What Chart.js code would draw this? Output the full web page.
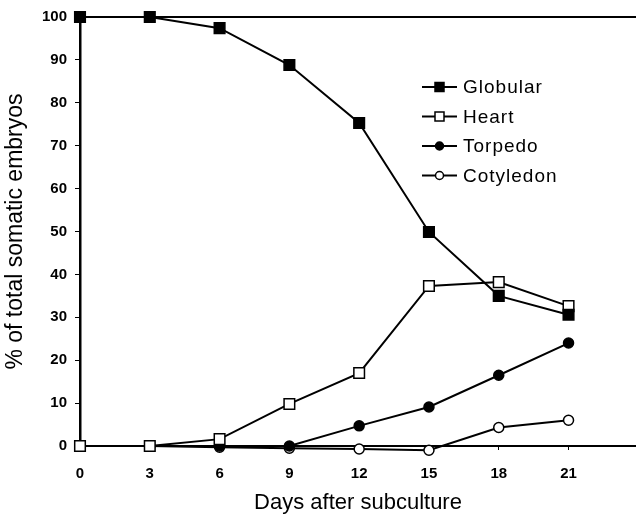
<!DOCTYPE html>
<html>
<head>
<meta charset="utf-8">
<script src="https://cdn.jsdelivr.net/npm/chart.js@4/dist/chart.umd.min.js"></script>
<style>
  html, body { margin: 0; padding: 0; background: #fff; overflow: hidden; }
  canvas { display: block; }
</style>
</head>
<body>
<canvas id="myChart" width="636" height="518"></canvas>
<script>
const days = [0, 3, 6, 9, 12, 15, 18, 21];
const globular = [100, 100, 97.4, 88.8, 75.3, 49.9, 35, 30.6];
const heart = [0, 0, 1.6, 9.8, 17, 37.3, 38.2, 32.6];
const torpedo = [0, 0, 0, 0, 4.7, 9.1, 16.5, 24];
const cotyledon = [0, 0, -0.3, -0.5, -0.7, -1, 4.3, 6];
const xTicks = [0, 3, 6, 9, 12, 15, 18, 21];
const yTicks = [0, 10, 20, 30, 40, 50, 60, 70, 80, 90, 100];

const toPoints = vals => days.map((d, i) => ({ x: d, y: vals[i] }));

const series = [
    { label: 'Globular', data: globular, style: 'rect', fill: '#000', r: 7.5 },
    { label: 'Heart', data: heart, style: 'rect', fill: '#fff', r: 7.5 },
    { label: 'Torpedo', data: torpedo, style: 'circle', fill: '#000', r: 5 },
    { label: 'Cotyledon', data: cotyledon, style: 'circle', fill: '#fff', r: 5 },
];

const FONT = '"Liberation Sans", Arial, sans-serif';

// legend drawn inside the plot like the original figure
const boxLegend = {
    id: 'boxLegend',
    afterDraw(chart) {
        const c = chart.ctx;
        c.save();
        c.font = '19px ' + FONT;
        c.letterSpacing = '1px';
        c.textBaseline = 'middle';
        series.forEach((s, i) => {
            const y = 87 + i * 29.5;
            c.strokeStyle = '#000';
            c.lineWidth = 2;
            c.beginPath();
            c.moveTo(422, y);
            c.lineTo(457, y);
            c.stroke();
            c.fillStyle = s.fill;
            c.lineWidth = 1.5;
            if (s.style === 'rect') {
                c.fillRect(435, y - 4.5, 9, 9);
                c.strokeRect(435, y - 4.5, 9, 9);
            } else {
                c.beginPath();
                c.arc(439.5, y, 4, 0, Math.PI * 2);
                c.fill();
                c.stroke();
            }
            c.fillStyle = '#000';
            c.fillText(s.label, 463, y + 1);
        });
        c.restore();
    }
};

const ctx = document.getElementById('myChart');

new Chart(ctx, {
    type: 'line',
    data: {
        datasets: series.map(s => ({
            label: s.label,
            data: toPoints(s.data),
            borderColor: '#000',
            borderWidth: 2,
            backgroundColor: s.fill,
            pointStyle: s.style,
            pointRadius: s.r,
            pointBorderWidth: 1.5,
            pointBackgroundColor: s.fill,
            pointBorderColor: '#000',
            tension: 0,
            clip: false,
        }))
    },
    options: {
        responsive: false,
        animation: false,
        layout: { autoPadding: false, padding: { top: 17, right: 0, left: 0, bottom: 0 } },
        plugins: {
            legend: { display: false },
            tooltip: { enabled: false },
        },
        scales: {
            x: {
                type: 'linear',
                min: 0,
                max: 23.9,
                afterBuildTicks: s => { s.ticks = xTicks.map(v => ({ value: v })); },
                afterFit: s => { s.height = 72; },
                grid: { drawOnChartArea: false, tickLength: 4, color: '#000' },
                border: { color: '#000', width: 2 },
                ticks: {
                    color: '#000',
                    padding: 15,
                    maxRotation: 0,
                    font: { family: FONT, size: 15, weight: 'bold' },
                },
                title: {
                    display: true,
                    text: 'Days after subculture',
                    color: '#000',
                    padding: { top: 2, bottom: 2 },
                    font: { family: FONT, size: 22 },
                },
            },
            xTop: {
                type: 'linear',
                position: 'top',
                min: 0,
                max: 23.9,
                afterFit: s => { s.height = 0; },
                grid: { display: false },
                border: { color: '#000', width: 2 },
                ticks: { display: false },
            },
            y: {
                min: 0,
                max: 100,
                afterBuildTicks: s => { s.ticks = yTicks.map(v => ({ value: v })); },
                afterFit: s => { s.width = 80; },
                grid: { drawOnChartArea: false, tickLength: 5, color: '#000' },
                border: { color: '#000', width: 2.5 },
                ticks: {
                    color: '#000',
                    padding: 8,
                    font: { family: FONT, size: 15, weight: 'bold' },
                },
                title: {
                    display: true,
                    text: '% of total somatic embryos',
                    color: '#000',
                    padding: { top: 2, bottom: 0 },
                    font: { family: FONT, size: 23 },
                },
            }
        }
    },
    plugins: [boxLegend]
});
</script>
</body>
</html>
